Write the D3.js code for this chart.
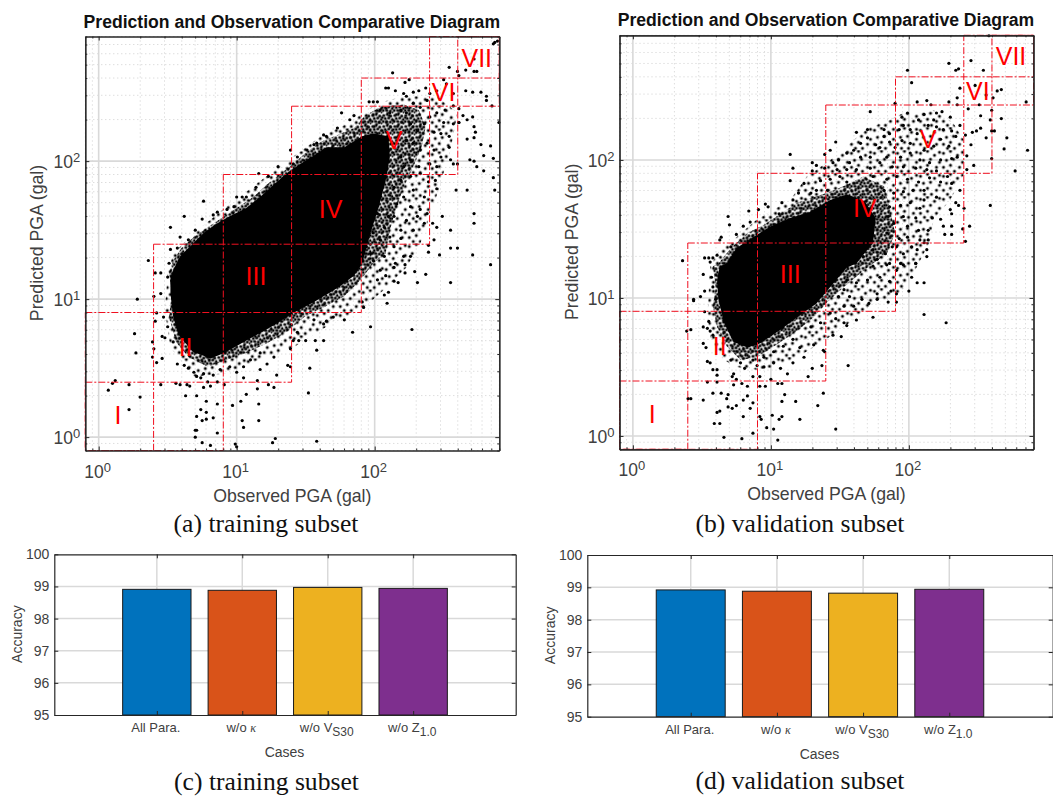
<!DOCTYPE html>
<html>
<head>
<meta charset="utf-8">
<script src="https://cdnjs.cloudflare.com/ajax/libs/d3/7.8.5/d3.min.js"></script>
<style>
  html, body { margin: 0; padding: 0; background: #fff; }
  svg { display: block; }
  text { font-family: "Liberation Sans", Arial, sans-serif; fill: #404040; }
  .caption { font-family: "Liberation Serif", "Times New Roman", serif; fill: #111; font-size: 25.6px; }
</style>
</head>
<body>
<svg id="chart" width="1053" height="797"></svg>
<script>
// all scatter values are log10(gal) pairs [observed, predicted]

// the cloud is too dense to read point by point, so it is kept as outlines:
// core = solid black, dense/sparse = stippled bands around it
var train_core = [[.52,1.04],[.54,.87],[.58,.74],[.68,.62],[.81,.57],[.91,.61],[1.07,.7],[1.27,.81],[1.41,.9],[1.56,.98],
  [1.73,1.08],[1.85,1.17],[1.91,1.26],[1.97,1.48],[2.03,1.67],[2.08,1.86],[2.11,2.03],[2.1,2.18],[1.99,2.2],[1.91,2.18],
  [1.78,2.1],[1.65,2.1],[1.56,2.04],[1.46,1.98],[1.36,1.91],[1.27,1.83],[1.17,1.74],[1.07,1.66],[.95,1.6],[.86,1.55],
  [.76,1.48],[.66,1.38],[.59,1.31],[.54,1.21],[.52,1.16]];

var train_dense = [[.53,1.04],[.51,.87],[.56,.69],[.65,.58],[.79,.51],[.93,.56],[1.07,.61],[1.22,.68],[1.36,.76],[1.49,.87],
  [1.63,.94],[1.78,1.02],[1.9,1.14],[1.99,1.26],[2.08,1.33],[2.11,1.5],[2.16,1.67],[2.21,1.81],[2.28,1.96],[2.34,2.1],
  [2.37,2.25],[2.32,2.37],[2.21,2.41],[2.04,2.39],[1.93,2.33],[1.85,2.24],[1.73,2.19],[1.61,2.14],[1.51,2.07],[1.41,1.98],
  [1.32,1.91],[1.22,1.83],[1.12,1.74],[1,1.66],[.91,1.6],[.79,1.52],[.69,1.45],[.6,1.37],[.54,1.28],[.51,1.19]];

var train_sparse = [[.52,.65],[.69,.44],[.91,.46],[1.17,.56],[1.41,.65],[1.65,.8],[1.9,.92],[2.07,1.07],[2.23,1.23],[2.33,1.4],
  [2.44,1.72],[2.55,2.08],[2.6,2.35],[2.45,2.47],[2.21,2.47],[2.02,2.42],[1.8,2.27],[1.61,2.18],[1.27,1.93],[.95,1.69],
  [.69,1.48],[.54,1.33],[.5,1.19],[.48,.92]];

var val_core = [[.61,1.13],[.62,.99],[.66,.82],[.73,.68],[.83,.64],[.92,.67],[1.07,.77],[1.19,.86],[1.33,.96],[1.43,1.08],
  [1.55,1.22],[1.62,1.25],[1.74,1.4],[1.76,1.58],[1.68,1.7],[1.55,1.75],[1.43,1.71],[1.28,1.62],[1.14,1.58],[1,1.52],
  [.87,1.44],[.75,1.36],[.68,1.25],[.63,1.23]];

var val_dense = [[.6,1.08],[.58,.94],[.61,.79],[.68,.65],[.78,.55],[.9,.57],[1.04,.66],[1.19,.76],[1.31,.86],[1.41,.97],
  [1.53,1.08],[1.65,1.18],[1.74,1.25],[1.84,1.32],[1.9,1.47],[1.86,1.66],[1.82,1.81],[1.67,1.88],[1.55,1.82],[1.43,1.77],
  [1.31,1.73],[1.19,1.69],[1.07,1.61],[.95,1.53],[.83,1.47],[.71,1.36],[.62,1.25],[.58,1.23]];

var val_sparse = [[1.14,1.71],[1.26,1.88],[1.43,2],[1.7,2.23],[1.86,2.29],[1.96,2.34],[2.18,2.36],[2.32,2.27],[2.4,2.14],[2.4,1.9],
  [2.3,1.71],[2.18,1.57],[2.15,1.4],[2.07,1.25],[2.01,1.13],[1.91,1.01],[1.74,.96],[1.57,.82],[1.43,.72],[1.24,.6],
  [1.07,.5],[.9,.48],[.75,.5],[.66,.55],[.57,.67],[.54,.86],[.55,1.06],[.56,1.23],[.63,1.35],[.75,1.44],[.9,1.57],[1.02,1.64]];

var train_points = [[2.87,2.86],[2.86,2.85],[2.89,2.87],[2.54,2.68],[2.6,2.65],[2.66,2.66],[2.72,2.65],[2.74,2.65],[2.13,2.64],[2.72,2.74],
  [2.25,2.59],[2.22,2.57],[2.5,2.59],[2.61,2.62],[2.08,2.53],[2.1,2.53],[2.15,2.51],[2.21,2.49],[2.23,2.47],[2.28,2.5],
  [2.32,2.51],[2.37,2.53],[2.4,2.49],[2.45,2.51],[2.52,2.56],[2.57,2.49],[2.66,2.51],[2.71,2.5],[2.77,2.5],[2.81,2.47],
  [2.81,2.44],[2.85,2.4],[2.9,2.28],[2.64,2.33],[2.71,2.32],[2.67,2.3],[2.51,2.37],[2.57,2.4],[2.61,2.38],[2.61,2.28],
  [2.04,2.37],[2.11,2.35],[2.19,2.37],[2.23,2.35],[2.28,2.42],[2.33,2.39],[2.38,2.44],[2.26,2.27],[2.31,2.22],[2.36,2.27],
  [2.4,2.32],[2.45,2.35],[2.5,2.28],[2.43,2.21],[2.48,2.2],[2.54,2.18],[2.57,2.27],[2.23,2.15],[2.28,2.13],[2.33,2.08],
  [2.38,2.13],[2.43,2.08],[2.48,2.03],[2.45,1.96],[2.54,2.1],[2.55,2.01],[2.4,1.98],[2.32,1.96],[2.26,2.01],[2.21,1.96],
  [2.19,2.03],[2.19,1.86],[2.26,1.89],[2.33,1.91],[2.39,1.85],[2.44,1.86],[2.45,1.8],[2.28,1.79],[2.36,1.74],[2.14,1.81],
  [2.21,1.74],[2.16,1.69],[2.26,1.67],[2.33,1.65],[2.14,1.6],[2.23,1.57],[2.31,1.6],[2.19,1.5],[2.28,1.5],[2.36,1.55],
  [2.1,1.6],[2.07,1.52],[2.11,1.45],[2.19,1.44],[2.26,1.31],[2.21,1.31],[2.14,1.38],[2.04,1.43],[1.97,1.33],[2.07,1.31],
  [2.15,1.26],[1.99,1.48],[2.02,1.62],[1.94,1.38],[1.91,1.28],[1.99,1.28],[2.43,1.43],[2.39,1.39],[2.39,1.34],[2.47,1.32],
  [2.55,1.37],[2.6,1.37],[2.71,1.32],[2.84,1.25],[2.55,1.5],[2.45,1.52],[2.42,1.55],[2.49,1.6],[2.38,1.62],[2.72,1.62],
  [2.72,1.55],[2.59,1.79],[2.67,1.79],[2.87,1.79],[2.86,1.88],[2.6,1.98],[2.57,1.98],[2.69,2.01],[2.72,2],[2.74,1.96],
  [2.79,1.93],[2.86,2.02],[2.79,2.04],[2.77,2.12],[2.84,2.11],[2.67,2.16],[2.72,2.17],[2.72,2.25],[2.73,2.21],[2.61,2.28],
  [.36,1.28],[.52,1.52],[.62,1.6],[.76,1.71],[.59,1.45],[.65,1.43],[.7,1.5],[.75,1.58],[.83,1.61],[.86,1.63],
  [.52,1.36],[.57,1.37],[.93,1.65],[1,1.74],[1.04,1.74],[1.16,1.91],[1.23,1.89],[1.29,1.81],[1.3,1.96],[1.39,2.08],
  [1.44,2.03],[1.56,2.12],[1.63,2.19],[1.73,2.24],[1.76,2.35],[1.82,2.3],[1.85,2.33],[1.96,2.43],[1.99,2.43],[2.02,2.43],
  [1.65,2.18],[1.58,2.13],[1.51,2.08],[1.41,1.98],[1.14,1.81],[1.07,1.74],[.98,1.67],
  [.07,.34],[.1,.39],[.12,.41],[.22,.38],[.3,.29],[.22,.2],[.28,1],[.26,.75],[.27,.61],[.39,.69],
  [.4,.64],[.39,.58],[.42,.54],[.46,.57],[.45,.38],[.56,.39],[.59,.38],[.64,.38],[.66,.37],[.63,.3],
  [.71,.3],[.71,.15],[.74,.2],[.78,.26],[.78,.18],[.75,.12],[.78,.13],[.83,.14],[.86,.24],[.7,.05],
  [.71,.05],[.7,0],[.75,-.04],[.81,-.06],[.86,.03],[.99,-.05],[1,-.07],[.97,.23],[1.04,.12],[1.05,.07],
  [1.03,.26],[1.07,.31],[1.16,.24],[1.16,.12],[1.26,-.04],[1.28,-.01],[1.58,-.03],[1.52,.32],[1.53,.5],[1.05,.43],
  [1.15,.41],[1.15,.35],[1.23,.38],[1.27,.36],[1.29,.45],[1.37,.52],[1.39,.51],[.76,.36],[.79,.4],[.81,.37],
  [.86,.4],[.91,.38],[.71,.44],[.74,.43],[.76,.46],[.83,.45],[.88,.49],[.95,.51],[1,.47],[1.05,.51],
  [1.1,.56],[1.17,.61],[1.22,.53],[1.27,.58],[1.17,.49],[.57,.53],[.62,.52],[.65,.5],[.69,.47],[1.41,.7],
  [1.45,.7],[1.5,.7],[1.57,.7],[1.63,.7],[1.58,.63],[1.39,.64],[1.44,.76],[1.63,.82],[1.65,.84],[1.78,.85],
  [1.84,.76],[1.97,.8],[2.27,.78],[1.92,.94],[1.91,.98],[2.07,1.03],[2.09,.97],[2.1,1.05],[2.14,1.13],[2.17,1.12],
  [2.22,1.19],[2.22,1.25],[2.29,1.2],[2.37,1.18],[2.31,1.12],[2.55,1.12],[2.02,1.14],[2.08,1.17],[2.14,1.23],[2.04,1.21],
  [1.7,.87],[1.56,.85],[.5,1.16],[.45,1.19],[.51,1.26],[.41,1.19],[.4,1.02],[.45,1.04],[.42,.9],[.41,.84],
  [.47,.87],[.46,.73],[.48,.72],[.54,.69],[.5,.8]];

var val_points = [[2.58,2.9],[2.45,2.72],[2.29,2.7],[2.36,2.66],[2.34,2.65],[2.54,2.65],[1.99,2.65],[2.02,2.56],[2.48,2.54],[2.37,2.52],
  [2.67,2.51],[2.64,2.5],[2.61,2.45],[2.56,2.47],[2.35,2.45],[2.29,2.42],[2.13,2.43],[2.06,2.42],[2.16,2.4],[1.9,2.41],
  [2.35,2.4],[2.43,2.37],[2.51,2.4],[2.6,2.36],[2.85,2.42],[2.59,2.29],[2.67,2.3],[2.52,2.32],[2.37,2.25],[2.3,2.31],
  [2.6,2.21],[2.62,2.21],[2.71,2.16],[2.49,2.21],[2.46,2.2],[2.56,2.16],[2.52,2.23],[2.41,2.18],[2.45,2.11],[2.42,2.03],
  [2.69,2.08],[2.86,2.07],[2.6,2.01],[2.77,1.92],[2.47,1.96],[2.42,1.93],[2.59,1.67],[2.4,1.65],[2.44,1.52],[2.39,1.5],
  [2.41,1.41],[2.37,1.78],[2.28,1.88],[2.31,1.83],[2.34,1.69],[2.36,1.67],[2.3,1.64],[2.31,1.61],[2.23,1.57],[2.25,1.52],
  [2.31,1.52],[2.31,1.46],[2.26,1.46],[2.17,1.58],[2.14,1.49],[2.14,1.42],[2.11,1.4],[2.13,1.35],
  [1.95,2.31],[1.99,2.34],[2.07,2.29],[2.11,2.33],[2.2,2.34],[2.24,2.35],[2.18,2.29],[2.14,2.25],[1.96,2.25],[1.93,2.22],
  [2.01,2.22],[2.06,2.19],[2.2,2.24],[2.25,2.22],[2.31,2.21],[2.34,2.17],[2.23,2.15],[2.29,2.1],[2.18,2.1],[2.11,2.07],
  [2.01,2.12],[1.95,2.14],[1.9,2.09],[1.82,2.17],[1.82,2.22],[1.86,2.19],[1.86,2.13],[1.79,2.09],[1.76,2.11],[1.7,2.22],
  [1.7,2.16],[1.72,2.35],[1.62,2.2],[1.47,2.13],[1.43,2.07],[1.39,2.04],[1.55,2.05],[1.6,2.07],[1.65,2.12],[1.49,2],
  [1.45,1.98],[1.57,1.98],[1.65,2.02],[1.72,2.02],[1.84,2.02],[1.94,2.02],[2.01,2.05],[2.08,2],[2.15,1.98],[2.23,2],
  [2.31,2.01],[2.35,2.02],[1.88,1.95],[1.96,1.95],[2.05,1.94],[2.13,1.93],[2.2,1.92],[1.79,1.98],[1.72,1.94],[1.62,1.93],
  [1.55,1.93],[1.48,1.93],[1.3,1.98],[1.33,1.96],[1.16,1.94],[1.14,2.04],[1.3,1.92],[1.39,1.94],[1.74,1.88],[1.84,1.86],
  [1.91,1.88],[1.99,1.86],[2.07,1.84],[2.15,1.87],[2.23,1.84],[2.11,1.78],[2.03,1.78],[1.96,1.77],[1.89,1.76],[1.82,1.78],
  [2.2,1.73],[2.11,1.71],[2.01,1.69],[1.94,1.67],[2.08,1.65],[1.86,1.66],[1.96,1.59],[2.05,1.58],[1.89,1.54],[1.99,1.52],
  [2.07,1.49],[1.93,1.43],[1.99,1.44],[2.08,1.42],[2.02,1.37],[2.06,1.35],[2.13,1.3],[1.96,1.32],[1.91,1.37],[2.05,1.25],
  [1.94,1.25],[1.85,1.59],[1.84,1.47],[1.88,1.37],[1.83,1.32],[1.74,1.35],[1.77,1.28],[1.67,1.3],[1.86,1.25],
  [.36,1.27],[.52,1.29],[.55,1.29],[.64,1.44],[.63,1.42],[.69,1.59],[.7,1.53],[.75,1.46],[.8,1.52],[.85,1.55],
  [.84,1.63],[.91,1.64],[.96,1.68],[.98,1.66],[1.08,1.69],[1.06,1.61],[1.14,1.85],[1.24,1.83],[1.2,1.76],[1.16,1.71],
  [.58,1.29],[.61,1.31],[.71,1.37],[1.29,1.76],[1.36,1.85],[1.43,1.86],[1.5,1.88],[1.55,1.84],[1.33,1.78],[1.41,1.78],
  [.51,1.17],[.56,1.26],[.57,1.15],[.58,1.08],[.52,1.05],[.49,1.01],[.44,.99],[.44,.98],[.6,.99],[.52,.9],
  [.55,.83],[.51,.79],[.54,.78],[.56,.76],[.39,.76],[.42,.77],[.51,.67],[.53,.64],[.58,.73],[.54,.54],
  [.56,.53],[.58,.48],[.61,.48],[.61,.44],[.54,.39],[.61,.39],[.4,.27],[.42,.27],[.51,.26],[.58,.31],
  [.64,.31],[.69,.3],[.68,.27],[.69,.21],[.72,.2],[.75,.22],[.61,.17],[.63,.18],[.59,.09],[.63,.09],
  [.66,-.01],[.79,-.02],[.8,.14],[.8,.26],[.83,.29],[.85,.2],[.87,.24],[.87,.02],[.92,.14],[.93,.12],
  [.97,.06],[1.02,.05],[1.05,-.03],[1.01,.15],[1.06,.12],[1.08,.14],[1.21,.12],[1.08,.25],[1.1,.3],[1.18,.25],
  [1.34,.22],[1.38,.31],[1.47,.05],[.92,.36],[.96,.36],[.92,.43],[1,.41],[1.05,.38],[1.08,.38],[1.12,.45],
  [1.27,.43],[1.3,.49],[1.37,.51],[1.56,.51],[.72,.43],[.75,.41],[.73,.37],[.79,.38],[.83,.36],[.87,.43],
  [.73,.45],[.81,.49],[.9,.51],[.95,.5],[1.02,.53],[1.07,.49],[1.16,.53],[1.24,.57],[1.21,.64],[1.31,.66],
  [1.38,.62],[1.39,.61],[1.45,.73],[1.51,.72],[1.55,.8],[1.53,.82],[1.62,.84],[1.74,.86],[1.47,.85],[1.36,.82],
  [1.43,.89],[1.29,.79],[1.16,.7],[1.09,.65],[1.02,.61],[.95,.57],[.87,.55],[.78,.53],[.71,.55],[2.11,.88],
  [2.27,.82],[2.11,1.11],[2.06,1.11],[2,1.05],[1.91,.97],[1.91,1.03],[1.85,.97],[1.87,1.05],[1.77,1.03],[1.77,.99],
  [1.71,.96],[1.66,.99],[1.6,.94],[1.57,1.01],[1.53,.94],[1.86,1.12],[1.79,1.15],[1.91,1.2],[1.96,1.24],[2.05,1.25],
  [2.02,1.15],[1.84,1.24],[1.74,1.23],[1.7,1.13],[1.62,1.11],[1.55,1.13],[1.53,1.06],[1.49,1.01]];

// intensity class limits in gal, and the class boxes built on them
var class_limits = [0.8, 2.5, 8, 25, 80, 250, 400, 800];
var class_boxes = [[0,1],[0,2],[1,3],[2,4],[3,5],[4,6],[5,7],[6,7]];
var class_names = ['I','II','III','IV','V','VI','VII'];
var class_label_at = [[.14,.16],[.63,.65],[1.14,1.17],[1.68,1.65],[2.14,2.15],[2.5,2.5],[2.74,2.75]];

var case_names = ['All Para.', 'w/o ', 'w/o V', 'w/o Z'];
var case_subs = ['', '', 'S30', '1.0'];
var train_accuracy = [98.91, 98.88, 98.97, 98.94];
var val_accuracy = [98.92, 98.88, 98.82, 98.94];
var case_colors = ['#0072BD', '#D95319', '#EDB120', '#7E2F8E'];

var svg = d3.select('#chart');

// stipple fills, only a texture for the bands
function make_stipple(id, size, dots){
  svg.append('defs').append('pattern')
    .attr('id', id)
    .attr('patternUnits', 'userSpaceOnUse')
    .attr('width', size).attr('height', size)
    .selectAll('circle').data(dots).enter().append('circle')
    .attr('cx', function(d){ return d[0]; })
    .attr('cy', function(d){ return d[1]; })
    .attr('r', 1.5)
    .attr('fill', '#000');
}

make_stipple('dense_fill', 11, [[1.5,2],[5,1],[8.5,2.5],[3,5],[6.5,4.5],[10,6],[1,8],[4.5,8],[8,8.5],[5.5,11],[11,10]]);
make_stipple('sparse_fill', 23, [[2,3],[9,1],[16,5],[21,12],[5,10],[12,9],[18,17],[2,17],[9,15],[13,21],[6,21],[21,2]]);

function make_scatter(box, core, dense, sparse, points, caption){

  var w = box.right - box.left;
  var h = box.bottom - box.top;

  var x_scale = d3.scaleLog().domain([0.8, 800]).range([0, w]);
  var y_scale = d3.scaleLog().domain([0.8, 800]).range([h, 0]);

  var all_ticks = x_scale.ticks();
  var major = all_ticks.filter(function(d){ return [1, 10, 100].indexOf(d) > -1; });
  var minor = all_ticks.filter(function(d){ return major.indexOf(d) === -1 && d >= 1; })
    .concat([0.8, 0.9]);

  var g = svg.append('g').attr('transform', 'translate(' + box.left + ',' + box.top + ')');

  // grid, dotted minor lines then thick major lines
  g.selectAll('.minor_v').data(minor).enter().append('line')
    .attr('x1', function(d){ return x_scale(d); }).attr('x2', function(d){ return x_scale(d); })
    .attr('y1', 0).attr('y2', h)
    .attr('stroke', '#cfcfcf').attr('stroke-width', 1).attr('stroke-dasharray', '1 3');
  g.selectAll('.minor_h').data(minor).enter().append('line')
    .attr('y1', function(d){ return y_scale(d); }).attr('y2', function(d){ return y_scale(d); })
    .attr('x1', 0).attr('x2', w)
    .attr('stroke', '#cfcfcf').attr('stroke-width', 1).attr('stroke-dasharray', '1 3');
  g.selectAll('.major_v').data(major).enter().append('line')
    .attr('x1', function(d){ return x_scale(d); }).attr('x2', function(d){ return x_scale(d); })
    .attr('y1', 0).attr('y2', h)
    .attr('stroke', '#d9d9d9').attr('stroke-width', 1.6);
  g.selectAll('.major_h').data(major).enter().append('line')
    .attr('y1', function(d){ return y_scale(d); }).attr('y2', function(d){ return y_scale(d); })
    .attr('x1', 0).attr('x2', w)
    .attr('stroke', '#d9d9d9').attr('stroke-width', 1.6);

  // the cloud
  var cloud_line = d3.line()
    .x(function(d){ return x_scale(Math.pow(10, d[0])); })
    .y(function(d){ return y_scale(Math.pow(10, d[1])); })
    .curve(d3.curveLinearClosed);

  g.append('path').attr('d', cloud_line(sparse)).attr('fill', 'url(#sparse_fill)');
  g.append('path').attr('d', cloud_line(dense)).attr('fill', 'url(#dense_fill)');
  g.append('path').attr('d', cloud_line(core)).attr('fill', '#000');

  g.selectAll('.point').data(points).enter().append('circle')
    .attr('cx', function(d){ return x_scale(Math.pow(10, d[0])); })
    .attr('cy', function(d){ return y_scale(Math.pow(10, d[1])); })
    .attr('r', 1.6)
    .attr('fill', '#000');

  // class boxes
  g.selectAll('.class_box').data(class_boxes).enter().append('rect')
    .attr('x', function(d){ return x_scale(class_limits[d[0]]); })
    .attr('y', function(d){ return y_scale(class_limits[d[1]]); })
    .attr('width', function(d){ return x_scale(class_limits[d[1]]) - x_scale(class_limits[d[0]]); })
    .attr('height', function(d){ return y_scale(class_limits[d[0]]) - y_scale(class_limits[d[1]]); })
    .attr('fill', 'none')
    .attr('stroke', '#f01020')
    .attr('stroke-width', 1)
    .attr('stroke-dasharray', '7 2 2 2');

  g.selectAll('.class_name').data(class_names).enter().append('text')
    .attr('x', function(d, i){ return x_scale(Math.pow(10, class_label_at[i][0])); })
    .attr('y', function(d, i){ return y_scale(Math.pow(10, class_label_at[i][1])); })
    .attr('dy', '0.36em')
    .attr('text-anchor', 'middle')
    .style('font-size', '25px')
    .style('fill', '#ff0000')
    .text(function(d){ return d; });

  // axes on all four sides, ticks inside
  function tidy(sel){
    sel.select('.domain').attr('stroke', '#262626').attr('stroke-width', 1.2);
    sel.selectAll('line').attr('stroke', '#262626');
  }

  var sides = [
    {ax: d3.axisBottom(x_scale), at: [0, h]},
    {ax: d3.axisTop(x_scale), at: [0, 0]},
    {ax: d3.axisLeft(y_scale), at: [0, 0]},
    {ax: d3.axisRight(y_scale), at: [w, 0]}
  ];

  sides.forEach(function(s){
    g.append('g')
      .attr('transform', 'translate(' + s.at[0] + ',' + s.at[1] + ')')
      .call(s.ax.tickValues(minor).tickSize(-2).tickSizeOuter(0).tickFormat(''))
      .call(tidy);
    g.append('g')
      .attr('transform', 'translate(' + s.at[0] + ',' + s.at[1] + ')')
      .call(s.ax.tickValues(major).tickSize(-4).tickSizeOuter(0).tickFormat(''))
      .call(tidy);
  });

  // power of ten tick labels
  function power_label(sel, anchor){
    sel.attr('text-anchor', anchor).style('font-size', '17.5px');
    sel.append('tspan').text('10');
    sel.append('tspan')
      .attr('dy', '-0.45em')
      .style('font-size', '13px')
      .text(function(d){ return Math.round(Math.log10(d)); });
  }

  g.selectAll('.x_tick').data(major).enter().append('text')
    .attr('x', function(d){ return x_scale(d) - 1; })
    .attr('y', h + 27)
    .call(power_label, 'middle');

  g.selectAll('.y_tick').data(major).enter().append('text')
    .attr('x', -5)
    .attr('y', function(d){ return y_scale(d) + 7; })
    .call(power_label, 'end');

  g.append('text')
    .attr('x', w * 0.5).attr('y', h + 51)
    .attr('text-anchor', 'middle')
    .style('font-size', '17.7px')
    .text('Observed PGA (gal)');

  g.append('text')
    .attr('transform', 'translate(-42,' + (h * 0.5 - 0.5) + ') rotate(-90)')
    .attr('text-anchor', 'middle')
    .style('font-size', '17.7px')
    .text('Predicted PGA (gal)');

  g.append('text')
    .attr('x', w * 0.5 - 0.5).attr('y', -9)
    .attr('text-anchor', 'middle')
    .style('font-size', '17.6px')
    .style('font-weight', 'bold')
    .style('fill', '#111')
    .text('Prediction and Observation Comparative Diagram');

  g.append('text')
    .attr('class', 'caption')
    .attr('x', caption.x - box.left).attr('y', caption.y - box.top)
    .attr('text-anchor', 'middle')
    .text(caption.text);

}

function make_bars(box, values, caption){

  var w = box.right - box.left;
  var h = box.bottom - box.top;

  var x_scale = d3.scaleLinear().domain([-0.2, 5.2]).range([0, w]);
  var y_scale = d3.scaleLinear().domain([95, 100]).range([h, 0]);

  var g = svg.append('g').attr('transform', 'translate(' + box.left + ',' + box.top + ')');

  var grid_x = [1, 2, 3, 4];
  var grid_y = [96, 97, 98, 99];

  g.selectAll('.grid_v').data(grid_x).enter().append('line')
    .attr('x1', function(d){ return x_scale(d); }).attr('x2', function(d){ return x_scale(d); })
    .attr('y1', 0).attr('y2', h)
    .attr('stroke', '#d9d9d9').attr('stroke-width', 1.5);
  g.selectAll('.grid_h').data(grid_y).enter().append('line')
    .attr('y1', function(d){ return y_scale(d); }).attr('y2', function(d){ return y_scale(d); })
    .attr('x1', 0).attr('x2', w)
    .attr('stroke', '#d9d9d9').attr('stroke-width', 1.5);

  g.selectAll('.bar').data(values).enter().append('rect')
    .attr('x', function(d, i){ return x_scale(i + 1 - 0.4); })
    .attr('y', function(d){ return y_scale(d); })
    .attr('width', x_scale(0.8) - x_scale(0))
    .attr('height', function(d){ return h - y_scale(d); })
    .attr('fill', function(d, i){ return case_colors[i]; })
    .attr('stroke', '#1a1a1a')
    .attr('stroke-width', 1);

  function tidy(sel){
    sel.select('.domain').attr('stroke', '#262626').attr('stroke-width', 1.2);
    sel.selectAll('line').attr('stroke', '#262626');
    sel.selectAll('text').style('font-size', '14px').style('fill', '#404040');
  }

  g.append('g').attr('transform', 'translate(0,' + h + ')')
    .call(d3.axisBottom(x_scale).tickValues(grid_x).tickSize(-4).tickSizeOuter(0).tickFormat(''))
    .call(tidy);
  g.append('g')
    .call(d3.axisTop(x_scale).tickValues(grid_x).tickSize(-4).tickSizeOuter(0).tickFormat(''))
    .call(tidy);
  g.append('g')
    .call(d3.axisLeft(y_scale).tickValues([95, 96, 97, 98, 99, 100]).tickSize(-4).tickSizeOuter(0).tickPadding(5).tickFormat(d3.format('d')))
    .call(tidy);
  g.append('g').attr('transform', 'translate(' + w + ',0)')
    .call(d3.axisRight(y_scale).tickValues([95, 96, 97, 98, 99, 100]).tickSize(-4).tickSizeOuter(0).tickFormat(''))
    .call(tidy);

  // case labels, kappa and the subscripts need their own tspans
  var case_text = g.selectAll('.case_label').data(case_names).enter().append('text')
    .attr('x', function(d, i){ return x_scale(i + 1) - 1; })
    .attr('y', h + 17)
    .attr('text-anchor', 'middle')
    .style('font-size', '13px');

  case_text.append('tspan').text(function(d){ return d; });
  case_text.filter(function(d, i){ return i === 1; }).append('tspan')
    .style('font-family', '"Liberation Serif", serif')
    .style('font-style', 'italic')
    .style('font-size', '12px')
    .text('\u03ba');
  case_text.append('tspan')
    .attr('dy', 4)
    .style('font-size', '12px')
    .text(function(d, i){ return case_subs[i]; });

  g.append('text')
    .attr('x', x_scale(2.5) - 0.5).attr('y', h + 42)
    .attr('text-anchor', 'middle')
    .style('font-size', '14px')
    .text('Cases');

  g.append('text')
    .attr('transform', 'translate(-32,' + (h * 0.5 - 0.5) + ') rotate(-90)')
    .attr('text-anchor', 'middle')
    .style('font-size', '14px')
    .text('Accuracy');

  g.append('text')
    .attr('class', 'caption')
    .attr('x', caption.x - box.left).attr('y', caption.y - box.top)
    .attr('text-anchor', 'middle')
    .text(caption.text);

}

make_scatter({left: 85.3, right: 499.3, top: 36.5, bottom: 450.5}, train_core, train_dense, train_sparse, train_points,
  {x: 266, y: 532, text: '(a) training subset'});
make_scatter({left: 619.5, right: 1033.5, top: 35.3, bottom: 449.3}, val_core, val_dense, val_sparse, val_points,
  {x: 800, y: 532, text: '(b) validation subset'});
make_bars({left: 54.3, right: 515.7, top: 554.3, bottom: 715}, train_accuracy,
  {x: 266.5, y: 790, text: '(c) training subset'});
make_bars({left: 587.3, right: 1052.7, top: 555, bottom: 716.7}, val_accuracy,
  {x: 800, y: 789, text: '(d) validation subset'});
</script>
</body>
</html>
